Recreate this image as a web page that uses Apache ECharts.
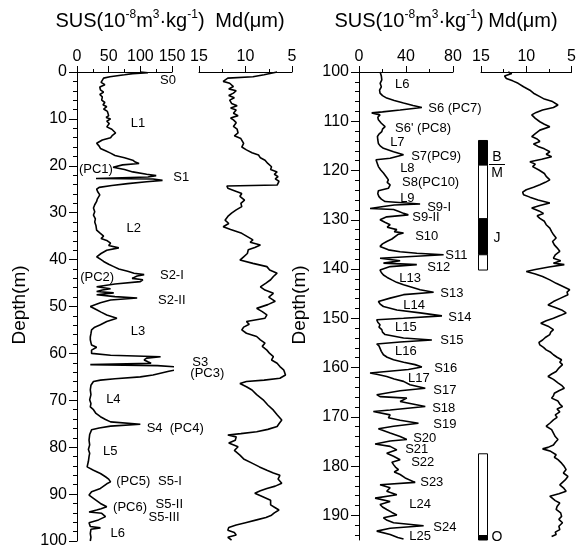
<!DOCTYPE html>
<html>
<head>
<meta charset="utf-8">
<script src="https://cdn.jsdelivr.net/npm/echarts@6/dist/echarts.min.js"></script>
<style>
  html, body { margin: 0; padding: 0; background: #fff; }
  #chart { width: 579px; height: 549px; }
</style>
</head>
<body>
<div id="chart"></div>
<script>
const FONT = '"Liberation Sans", Arial, Helvetica, sans-serif';

// Upper section, 0–100 m: [depth (m), SUS (10^-8 m3/kg)]
const upperSus = [
  [0,100],[0.15,112],[0.35,88],[0.6,75],[1.0,52],[1.3,42],[1.7,42],[2.2,38],[2.7,44],[3.2,36],[3.8,37],[4.3,42],[4.8,36],[5.3,40],[6.0,39],[6.5,44],[7.0,41],[7.4,47],[7.9,42],[8.4,48],[8.8,45],[9.3,50],[9.7,46],[10.0,53],[10.5,47],[11.0,51],[11.7,47],[12.2,55],[12.6,58],[13.0,61],[13.5,56],[14.0,53],[14.5,40],[15.2,31],[15.8,35],[16.3,37],[16.8,45],[17.3,53],[17.8,60],[18.3,75],[18.8,88],[19.2,92],[19.5,98],[19.8,72],[20.3,57],[20.8,75],[21.3,88],[21.8,110],[22.1,125],[22.4,112],[22.7,30],[22.8,120],[23.1,135],[23.4,110],[23.8,80],[24.2,55],[24.6,35],[25.0,31],[25.6,33],[26.2,36],[26.6,38],[27.1,32],[27.6,31],[28.3,28],[29.0,26],[29.8,28],[30.5,26],[31.3,29],[32.0,28],[32.8,30],[33.7,31],[34.3,36],[35.0,42],[35.5,38],[36.0,48],[36.5,53],[37.0,50],[37.5,66],[38.0,47],[38.7,38],[39.4,31],[40.0,38],[40.4,42],[41.0,50],[41.5,58],[42.0,66],[42.5,80],[42.9,90],[43.2,106],[43.5,95],[44.0,87],[44.3,104],[44.7,100],[45.2,60],[45.8,31],[46.2,53],[46.5,40],[46.8,31],[47.1,58],[47.5,31],[47.9,60],[48.2,95],[48.6,53],[49.2,37],[50.0,21],[50.7,31],[51.2,38],[51.8,47],[52.5,63],[53.2,47],[53.9,37],[54.4,28],[55.0,23],[55.8,22],[56.5,21],[57.1,21],[57.7,22],[58.2,23],[58.7,31],[59.3,23],[60.0,23],[60.4,53],[60.7,132],[61.0,110],[61.4,106],[61.8,112],[62.1,117],[62.4,21],[62.6,127],[63.0,170],[63.4,160],[63.8,145],[64.2,143],[64.6,120],[65.0,100],[65.4,60],[65.7,37],[66.0,26],[66.8,22],[67.8,21],[68.8,22],[69.9,20],[70.7,22],[71.4,21],[72.0,26],[72.8,30],[73.5,37],[74.1,45],[74.6,53],[75.1,100],[75.3,103],[75.5,53],[75.9,35],[76.3,23],[77.3,20],[78.5,19],[79.5,20],[80.5,18],[81.3,20],[82.0,19],[83.0,18],[84.2,16],[84.9,26],[85.6,37],[86.3,45],[86.8,50],[87.4,53],[87.8,47],[88.1,45],[88.8,37],[89.5,23],[90.2,19],[90.9,26],[91.5,32],[92.0,37],[92.7,47],[93.1,38],[93.4,31],[93.8,19],[94.1,39],[94.8,45],[95.5,34],[96.1,19],[96.9,21],[97.2,37],[97.5,22],[98.4,21],[99.2,22],[100,21]
];

// Upper section, 0–100 m: [depth (m), median grain size Md (µm)]
const upperMd = [
  [0,6.6],[0.3,6.5],[0.6,8.0],[1.0,9.2],[1.3,11.9],[1.7,12.0],[2.0,12.4],[2.4,11.7],[3.1,11.3],[3.6,11.8],[4.0,11.0],[4.5,11.3],[5.0,11.8],[5.5,11.2],[6.0,11.7],[6.7,11.5],[7.2,10.9],[7.7,11.6],[8.1,11.0],[8.8,11.3],[9.3,10.8],[9.8,11.6],[10.2,11.3],[10.8,11.0],[11.6,11.3],[12.2,10.9],[13.0,10.8],[13.6,11.2],[14.2,10.5],[15.2,10.2],[16.0,10.4],[16.6,9.9],[17.2,9.3],[17.7,8.6],[18.3,8.4],[18.8,7.9],[19.5,7.6],[20.2,7.2],[20.8,7.3],[21.3,6.6],[21.8,6.9],[22.3,6.5],[22.8,6.8],[23.3,6.4],[23.7,6.5],[24.1,6.6],[24.3,12.0],[24.8,11.9],[25.3,11.2],[25.9,10.4],[26.5,10.6],[27.3,10.1],[28.0,10.5],[28.7,10.4],[29.4,11.0],[30.1,11.5],[30.8,11.9],[31.6,12.2],[32.3,11.8],[33.0,12.4],[33.6,11.6],[34.4,10.4],[35.1,9.8],[35.8,9.2],[36.3,9.5],[36.9,8.4],[37.4,9.0],[37.9,9.7],[38.7,9.8],[39.4,10.2],[40.1,10.6],[40.8,9.2],[41.5,7.7],[42.2,7.4],[42.9,6.6],[43.6,7.0],[44.3,7.3],[45.0,7.8],[45.8,8.4],[46.5,7.9],[47.2,7.0],[48.0,7.5],[48.9,6.8],[49.6,7.6],[50.4,8.8],[51.1,8.2],[51.8,7.7],[52.5,7.9],[53.2,9.9],[53.8,9.6],[54.4,10.2],[55.0,10.4],[55.7,9.9],[56.4,8.8],[57.1,8.4],[57.8,7.9],[58.5,8.2],[59.3,7.7],[60.0,7.4],[60.7,7.0],[61.4,7.2],[62.1,6.6],[62.8,6.3],[63.5,5.9],[64.0,5.8],[64.6,5.7],[65.3,6.3],[65.7,8.0],[66.0,9.9],[66.4,10.6],[67.1,9.9],[67.8,9.3],[68.8,8.8],[69.9,8.1],[71.0,7.6],[72.1,7.0],[73.1,6.6],[74.2,6.1],[75.0,6.4],[75.6,6.6],[76.2,7.6],[76.7,8.8],[77.1,10.5],[77.4,11.9],[77.8,11.0],[78.5,11.1],[79.1,11.8],[79.9,10.8],[80.7,11.2],[81.7,10.6],[82.5,10.2],[83.4,9.3],[84.2,8.5],[84.9,7.7],[85.5,7.0],[86.0,6.3],[86.8,6.5],[87.7,6.1],[88.3,6.8],[88.8,7.7],[89.3,8.4],[89.8,9.0],[90.5,8.2],[91.3,7.3],[92.3,7.3],[92.9,6.8],[93.4,6.4],[94.0,6.9],[94.5,7.2],[95.0,7.8],[95.5,8.8],[96.1,10.0],[96.6,11.0],[97.1,11.8],[97.7,11.9],[98.2,11.2],[98.7,11.0],[99.2,11.9],[99.8,11.5]
];

// Lower section, 100–195 m: [depth (m), SUS (10^-8 m3/kg)]
const lowerSus = [
  [100.0,18],[100.8,19],[101.6,19.4],[102.3,18],[103.0,19],[103.7,17.5],[104.3,17.9],[104.8,20],[105.3,23.6],[105.8,30],[106.3,37.9],[106.8,46],[107.2,53.5],[107.7,35],[108.1,20],[108.3,10.8],[108.7,17.9],[109.2,16],[109.7,16.5],[110.4,19],[111.1,22.2],[111.6,20],[112.1,19.4],[112.6,17],[113.1,15.7],[113.8,16],[114.5,16.5],[115.0,18],[115.5,20.8],[116.2,29.4],[116.8,37.9],[117.5,26.5],[117.8,14.5],[118.5,15.5],[119.2,16.5],[119.9,18.5],[120.5,20.8],[121.2,23],[121.9,25],[122.4,24],[122.9,26.5],[123.6,25],[124.1,16.5],[124.7,16],[125.3,17],[125.8,19],[126.3,22.2],[126.8,52],[127.0,30],[127.3,20.8],[127.7,9.4],[127.9,29.4],[128.3,34],[128.7,37.9],[129.0,42],[129.4,23.6],[130.0,17.9],[130.5,22],[131.0,26.5],[131.5,24],[132.0,32.2],[132.4,30],[132.7,37.9],[133.0,33],[133.4,32.2],[133.9,28],[134.4,23.6],[134.9,20],[135.4,17.9],[135.8,19],[136.1,25],[136.5,35],[136.8,49.2],[137.1,72],[137.5,40.7],[137.8,17.9],[138.3,35],[138.8,20.8],[139.1,49.2],[139.5,26.5],[140.2,17.9],[140.7,19],[141.2,20.8],[141.7,24],[142.2,27.9],[142.7,32],[143.2,37.9],[143.7,45],[144.2,52],[144.7,63.5],[145.2,37.9],[145.9,26.5],[146.6,16.5],[147.1,18],[147.6,20.8],[148.3,32.2],[148.9,52],[149.5,70.6],[150.0,37.9],[150.3,15.1],[150.8,16],[151.3,17.9],[151.8,17],[152.3,19.4],[152.8,20],[153.3,22.2],[154.0,37.9],[154.4,62],[154.8,35],[155.2,15.1],[155.6,17],[156.0,17.9],[156.7,19],[157.4,20.8],[157.9,24],[158.4,29.4],[158.9,38],[159.4,47.7],[159.9,53.5],[160.4,42],[161.1,9.4],[161.4,16],[161.8,23.6],[162.3,30],[162.8,37.9],[163.5,43.4],[164.2,56.4],[164.7,35],[165.5,15.1],[165.9,17.9],[166.2,40.7],[166.9,35],[167.5,47.8],[167.9,56.4],[168.6,26.5],[168.9,12.2],[169.6,26.5],[170.2,25],[170.7,35],[171.3,50.6],[171.9,29.4],[172.4,16.5],[173.3,26.5],[174.0,35],[174.6,40.7],[174.9,26.5],[175.5,13.7],[176.0,26.5],[176.7,32.2],[177.4,23.6],[178.0,29.4],[178.7,35],[179.2,28],[179.7,29.4],[180.2,31],[180.7,33.6],[181.2,30],[181.7,35],[182.4,39.3],[183.3,47.8],[183.8,17.9],[184.4,26.5],[185.1,23.6],[185.8,32.2],[186.5,13.7],[187.2,26.5],[187.8,17.9],[188.3,20],[188.8,23.6],[189.4,28],[189.9,32.2],[190.5,20.8],[191.0,24],[191.5,29.4],[192.1,55],[192.6,26.5],[193.2,15.1],[193.9,26.5],[194.5,33],[194.8,37.9]
];

// Lower section, 100–195 m: [depth (m), Md (µm)]
const lowerMd = [
  [100.0,12.0],[100.3,11.6],[100.8,12.4],[101.3,12.2],[101.8,11.5],[102.3,10.9],[103.0,10.3],[103.7,9.6],[104.3,9.2],[105.0,8.5],[105.5,8.0],[106.0,7.1],[106.7,6.5],[107.2,7.0],[107.7,8.2],[108.2,8.9],[108.7,9.4],[109.4,9.0],[110.1,8.5],[110.6,8.0],[111.1,7.4],[111.8,8.5],[112.5,9.0],[113.1,9.4],[113.6,8.8],[114.1,8.5],[114.6,9.2],[115.1,8.7],[115.6,8.0],[116.2,7.4],[116.7,7.8],[117.2,7.2],[117.7,8.3],[118.2,9.6],[118.7,9.0],[119.2,9.3],[119.9,8.6],[120.6,8.0],[121.2,7.8],[121.9,7.4],[122.4,7.9],[122.9,8.5],[123.4,9.2],[123.9,10.0],[124.4,10.4],[124.9,10.3],[125.4,9.6],[126.0,8.7],[126.6,7.4],[127.1,8.5],[127.6,9.4],[128.2,8.6],[128.7,8.1],[129.2,8.8],[129.7,8.5],[130.3,8.0],[131.0,7.8],[131.7,7.4],[132.4,7.2],[133.0,7.0],[133.7,6.7],[134.4,7.1],[135.1,6.9],[135.7,6.6],[136.4,6.3],[137.1,6.8],[137.8,7.0],[138.3,6.2],[138.8,7.0],[139.1,5.8],[139.6,7.5],[140.1,9.0],[140.5,10.0],[141.0,9.0],[141.5,8.2],[142.2,7.4],[142.9,6.7],[143.5,6.0],[144.2,5.2],[144.7,5.5],[145.2,5.4],[145.9,6.2],[146.6,7.0],[147.3,7.6],[147.8,6.8],[148.3,6.1],[148.9,5.6],[149.4,6.2],[150.0,7.0],[150.5,7.8],[151.0,8.4],[151.6,7.6],[152.3,7.0],[152.8,7.3],[153.3,7.4],[153.9,7.9],[154.4,8.2],[154.9,8.6],[155.4,8.5],[155.9,8.1],[156.4,7.8],[156.9,7.3],[157.4,7.0],[157.9,6.6],[158.4,6.1],[158.9,6.3],[159.4,6.0],[160.1,6.4],[160.8,6.7],[161.3,7.2],[161.8,7.6],[162.4,7.0],[163.1,6.5],[163.6,6.1],[164.2,5.8],[164.7,6.4],[165.2,6.9],[165.7,7.0],[166.2,7.2],[166.8,6.5],[167.4,6.3],[167.9,6.0],[168.4,6.6],[169.0,6.3],[169.6,6.8],[170.1,6.6],[170.6,7.0],[171.3,7.4],[171.9,7.8],[172.6,7.2],[173.3,7.0],[174.0,6.8],[174.6,6.5],[175.2,6.8],[175.7,7.0],[176.2,7.6],[176.5,8.2],[177.0,7.3],[177.7,6.7],[178.2,6.9],[178.7,6.5],[179.4,6.1],[180.1,5.8],[180.7,5.6],[181.4,5.9],[182.1,5.4],[182.8,5.7],[183.3,6.0],[183.8,6.3],[184.4,5.9],[185.1,5.6],[185.6,6.4],[186.1,7.4],[186.5,7.6],[187.0,6.8],[187.5,6.3],[188.2,6.6],[188.8,6.7],[189.5,6.2],[190.2,6.1],[190.8,6.4],[191.5,6.0],[192.2,6.4],[192.9,6.3],[193.4,6.8],[193.9,6.7],[194.3,7.2]
];

// Magnetic polarity zones (depth in m); 1 = normal (black), 0 = reversed (white)
const polarityTop    = [113.9, 118.9, 129.8, 137.1, 177.5, 194.1];
const polarityBase   = [118.9, 129.8, 137.1, 140.2, 194.1, 195.0];
const polarityNormal = [1, 0, 1, 0, 0, 1];

// Stratigraphic unit labels: [SUS value at label start, depth (m), text]
const upperUnits = [
  [131, 1.7, 'S0'], [85, 10.9, 'L1'], [3, 20.7, '(PC1)'], [152, 22.4, 'S1'],
  [78, 33.3, 'L2'], [5, 43.7, '(PC2)'], [131, 43.3, 'S2-I'], [128, 48.6, 'S2-II'],
  [85, 55.4, 'L3'], [182, 62.0, 'S3'], [179, 64.2, '(PC3)'], [46, 69.9, 'L4'],
  [110, 75.9, 'S4  (PC4)'], [41, 81.0, 'L5'], [62, 87.4, '(PC5)'], [128, 87.4, 'S5-I'],
  [57, 92.8, '(PC6)'], [124, 92.1, 'S5-II'], [113, 94.9, 'S5-III'], [53, 98.3, 'L6']
];
const lowerUnits = [
  [30.7, 102.6, 'L6'], [58.9, 107.3, 'S6 (PC7)'], [30.7, 111.4, "S6' (PC8)"], [26.5, 114.2, 'L7'],
  [44.4, 117.2, 'S7(PC9)'], [35, 119.5, 'L8'], [36.7, 122.5, 'S8(PC10)'], [35, 125.6, 'L9'],
  [58, 127.4, 'S9-I'], [45.3, 129.6, 'S9-II'], [47.8, 133.3, 'S10'], [73.4, 137.3, 'S11'],
  [58, 139.6, 'S12'], [34.2, 142.0, 'L13'], [69.2, 145.0, 'S13'], [37.6, 147.3, 'L14'],
  [76, 149.9, 'S14'], [30.7, 151.9, 'L15'], [69.2, 154.4, 'S15'], [30.7, 156.8, 'L16'],
  [64, 160.2, 'S16'], [41.8, 162.1, 'L17'], [63.2, 164.7, 'S17'], [62.3, 168.2, 'S18'],
  [63.2, 171.6, 'S19'], [46.1, 174.4, 'S20'], [39.3, 176.7, 'S21'], [44.4, 179.3, 'S22'],
  [52.1, 183.4, 'S23'], [42.7, 187.8, 'L24'], [63.2, 192.5, 'S24'], [42.7, 194.3, 'L25']
];

// Polarity chron labels: [depth (m), text]
const chronLabels = [[117.2, 'B'], [120.6, 'M'], [133.7, 'J'], [194.5, 'O']];
const brunhesMatuyamaDepth = 118.9;

const lowerTicks = [100, 110, 120, 130, 140, 150, 160, 170, 180, 190];
const lowerMinorTicks = [];
for (let d = 100; d <= 194; d += 2) lowerMinorTicks.push(d);

const chart = echarts.init(document.getElementById('chart'), null, { renderer: 'canvas' });

const black = '#000';
function topAxis(gridIndex, min, max, interval, inverse) {
  return {
    type: 'value', gridIndex, position: 'top', min, max, interval, inverse: !!inverse,
    axisLine: { show: true, onZero: false, lineStyle: { color: black, width: 1 } },
    axisTick: { show: true, inside: false, length: 6, lineStyle: { color: black } },
    minorTick: { show: true, splitNumber: 2, length: 3, lineStyle: { color: black } },
    axisLabel: { fontSize: 16, color: black, margin: 7, fontFamily: FONT },
    splitLine: { show: false }, minorSplitLine: { show: false }
  };
}
function hiddenAxis(gridIndex, min, max, inverse) {
  return { type: 'value', gridIndex, min, max, inverse: !!inverse, show: false, splitLine: { show: false } };
}

const grids = [
  { left: 77, top: 72, width: 95, height: 469 },   // SUS 0–100 m
  { left: 199, top: 72, width: 93, height: 469 },  // Md 0–100 m
  { left: 359, top: 72, width: 94, height: 468 },  // SUS 100–195 m
  { left: 481, top: 72, width: 91, height: 468 },  // Md 100–195 m
  { left: 359, top: 72, width: 94, height: 468 },  // minor depth ticks, lower section
  { left: 478, top: 72, width: 9, height: 468 }    // polarity column
];

const xAxes = [
  topAxis(0, 0, 150, 50),
  topAxis(1, 5, 15, 5, true),
  topAxis(2, 0, 80, 40),
  topAxis(3, 5, 15, 5, true),
  hiddenAxis(4, 0, 1),
  hiddenAxis(5, 0, 1)
];

const yAxes = [
  {
    type: 'value', gridIndex: 0, inverse: true, min: 0, max: 100, interval: 10,
    axisLine: { show: true, onZero: false, lineStyle: { color: black } },
    axisTick: { length: 8, lineStyle: { color: black } },
    minorTick: { show: true, splitNumber: 5, length: 4, lineStyle: { color: black } },
    axisLabel: { fontSize: 16, color: black, margin: 10, fontFamily: FONT },
    splitLine: { show: false }
  },
  hiddenAxis(1, 0, 100, true),
  {
    type: 'value', gridIndex: 2, inverse: true, min: 100, max: 195, interval: 10,
    axisLine: { show: true, onZero: false, lineStyle: { color: black } },
    axisTick: { length: 8, customValues: lowerTicks, lineStyle: { color: black } },
    axisLabel: { fontSize: 16, color: black, margin: 10, fontFamily: FONT, customValues: lowerTicks },
    splitLine: { show: false }
  },
  hiddenAxis(3, 100, 195, true),
  {
    type: 'value', gridIndex: 4, inverse: true, min: 100, max: 195, interval: 2,
    axisLine: { show: false },
    axisTick: { show: true, length: 4, customValues: lowerMinorTicks, lineStyle: { color: black } },
    axisLabel: { show: false },
    splitLine: { show: false }
  },
  hiddenAxis(5, 100, 195, true)
];

function profile(data, idx) {
  return {
    type: 'line', xAxisIndex: idx, yAxisIndex: idx,
    data: data.map(([d, v]) => [v, d]),
    symbol: 'none', clip: false, silent: true,
    lineStyle: { color: black, width: 1.6 }
  };
}

const series = [
  profile(upperSus, 0),
  profile(upperMd, 1),
  profile(lowerSus, 2),
  profile(lowerMd, 3),
  {
    type: 'custom', xAxisIndex: 5, yAxisIndex: 5, silent: true,
    dimensions: ['top', 'base', 'normal'],
    encode: { y: [0, 1] },
    data: polarityTop.map((t, i) => [t, polarityBase[i], polarityNormal[i]]),
    renderItem(params, api) {
      const p0 = api.coord([0, api.value(0)]);
      const p1 = api.coord([1, api.value(1)]);
      return {
        type: 'rect',
        shape: { x: Math.round(p0[0]) + 0.5, y: p0[1], width: Math.round(p1[0] - p0[0]), height: p1[1] - p0[1] },
        style: { fill: api.value(2) ? black : '#fff', stroke: black, lineWidth: 1 }
      };
    }
  }
];

chart.setOption({
  backgroundColor: '#fff',
  animation: false,
  grid: grids,
  xAxis: xAxes,
  yAxis: yAxes,
  series
});

// Titles, depth captions and unit labels
const rich = {
  b: { fontSize: 20, fontFamily: FONT, lineHeight: 24, fill: black },
  s: { fontSize: 12, fontFamily: FONT, lineHeight: 24, verticalAlign: 'top', fill: black }
};
const susText = '{b|SUS(10}{s|-8}{b|m}{s|3}{b|·kg}{s|-1}{b|)}';
function title(x, text, isRich) {
  return {
    type: 'text', x, y: 21, silent: true,
    style: isRich
      ? { text, rich, align: 'center', verticalAlign: 'middle', fill: black }
      : { text, font: '20px ' + FONT, align: 'center', verticalAlign: 'middle', fill: black }
  };
}
function depthCaption(x) {
  return {
    type: 'text', x, y: 305, rotation: Math.PI / 2, silent: true,
    style: { text: 'Depth(m)', font: '19px ' + FONT, align: 'center', verticalAlign: 'middle', fill: black }
  };
}
const graphics = [
  title(130, susText, true), title(250, 'Md(μm)'),
  title(409, susText, true), title(523, 'Md(μm)'),
  depthCaption(20), depthCaption(300)
];

function unitLabels(units, gridIndex) {
  units.forEach(([v, d, txt]) => {
    const p = chart.convertToPixel({ gridIndex }, [v, d]);
    graphics.push({
      type: 'text', x: p[0], y: p[1], silent: true,
      style: { text: txt, font: '13px ' + FONT, align: 'left', verticalAlign: 'middle', fill: black }
    });
  });
}
unitLabels(upperUnits, 0);
unitLabels(lowerUnits, 2);

const colRight = chart.convertToPixel({ gridIndex: 5 }, [1, 100])[0];
chronLabels.forEach(([d, txt]) => {
  const y = chart.convertToPixel({ gridIndex: 5 }, [1, d])[1];
  graphics.push({
    type: 'text', x: colRight + 10, y, silent: true,
    style: { text: txt, font: '14px ' + FONT, align: 'center', verticalAlign: 'middle', fill: black }
  });
});
const bmY = Math.round(chart.convertToPixel({ gridIndex: 5 }, [1, brunhesMatuyamaDepth])[1]) - 0.5;
graphics.push({
  type: 'line', silent: true,
  shape: { x1: colRight + 2, y1: bmY, x2: colRight + 18, y2: bmY },
  style: { stroke: black, lineWidth: 1 }
});

chart.setOption({ graphic: graphics });
</script>
</body>
</html>
